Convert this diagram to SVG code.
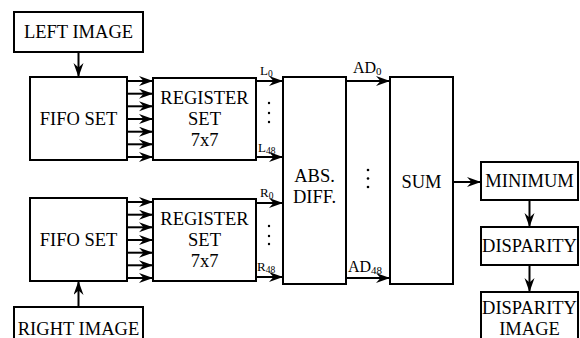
<svg xmlns="http://www.w3.org/2000/svg" width="580" height="338" viewBox="0 0 580 338">
<style>
.box{fill:#fff;stroke:#000;stroke-width:2}
text{font-family:"Liberation Serif","DejaVu Serif",serif;fill:#000}
.t{font-size:18.5px;text-anchor:middle}
.lb{font-size:13px}
.ad{font-size:16px}
.c line{stroke:#000;stroke-width:2;marker-end:url(#ah)}
.dot{fill:#000}
</style>
<defs>
<marker id="ah" markerUnits="userSpaceOnUse" markerWidth="16" markerHeight="12" refX="14" refY="5" orient="auto">
<path d="M0,0 L14,5 L0,10 L4.5,5 z" fill="#000"/>
</marker>
</defs>
<g id="left-image"><rect class="box" x="14" y="12" width="129" height="40"/><text class="t" x="78.5" y="38">LEFT IMAGE</text></g>
<g id="fifo-left"><rect class="box" x="30" y="77" width="97" height="83"/><text class="t" x="78.5" y="125">FIFO SET</text></g>
<g id="reg-left"><rect class="box" x="153" y="78" width="103" height="82"/><text class="t" x="204.5" y="104">REGISTER</text><text class="t" x="204.5" y="125">SET</text><text class="t" x="204.5" y="146">7x7</text></g>
<g id="fifo-right"><rect class="box" x="30" y="198" width="97" height="83"/><text class="t" x="78.5" y="246">FIFO SET</text></g>
<g id="reg-right"><rect class="box" x="153" y="199" width="103" height="82"/><text class="t" x="204.5" y="225">REGISTER</text><text class="t" x="204.5" y="246">SET</text><text class="t" x="204.5" y="267">7x7</text></g>
<g id="right-image"><rect class="box" x="14" y="307" width="129" height="40"/><text class="t" x="78.5" y="335">RIGHT IMAGE</text></g>
<g id="abs-diff"><rect class="box" x="283" y="77" width="63" height="207"/><text class="t" x="314.5" y="182">ABS.</text><text class="t" x="314.5" y="203">DIFF.</text></g>
<g id="sum"><rect class="box" x="390" y="77" width="63" height="207"/><text class="t" x="421.5" y="188">SUM</text></g>
<g id="minimum"><rect class="box" x="481" y="162" width="97" height="38"/><text class="t" x="529.5" y="187">MINIMUM</text></g>
<g id="disparity"><rect class="box" x="481" y="227" width="97" height="38"/><text class="t" x="529.5" y="252">DISPARITY</text></g>
<g id="disparity-image"><rect class="box" x="481" y="292" width="97" height="55"/><text class="t" x="529.5" y="314">DISPARITY</text><text class="t" x="529.5" y="335">IMAGE</text></g>
<g id="connectors" class="c">
<line x1="78.5" y1="52" x2="78.5" y2="77"/>
<line x1="78.5" y1="307" x2="78.5" y2="281"/>
<line x1="127" y1="81" x2="153" y2="81"/>
<line x1="127" y1="93.7" x2="153" y2="93.7"/>
<line x1="127" y1="106.3" x2="153" y2="106.3"/>
<line x1="127" y1="119" x2="153" y2="119"/>
<line x1="127" y1="131.7" x2="153" y2="131.7"/>
<line x1="127" y1="144.3" x2="153" y2="144.3"/>
<line x1="127" y1="157" x2="153" y2="157"/>
<line x1="127" y1="202" x2="153" y2="202"/>
<line x1="127" y1="214.7" x2="153" y2="214.7"/>
<line x1="127" y1="227.3" x2="153" y2="227.3"/>
<line x1="127" y1="240" x2="153" y2="240"/>
<line x1="127" y1="252.7" x2="153" y2="252.7"/>
<line x1="127" y1="265.3" x2="153" y2="265.3"/>
<line x1="127" y1="278" x2="153" y2="278"/>
<line x1="256" y1="81" x2="283" y2="81"/>
<line x1="256" y1="157" x2="283" y2="157"/>
<line x1="256" y1="203" x2="283" y2="203"/>
<line x1="256" y1="277" x2="283" y2="277"/>
<line x1="346" y1="81" x2="390" y2="81"/>
<line x1="346" y1="278" x2="390" y2="278"/>
<line x1="453" y1="182" x2="481" y2="182"/>
<line x1="529.5" y1="200" x2="529.5" y2="227"/>
<line x1="529.5" y1="265" x2="529.5" y2="292"/>
</g>
<g id="labels">
<text class="lb" x="260" y="75">L<tspan font-size="9.5" dy="2">0</tspan></text>
<text class="lb" x="258" y="152">L<tspan font-size="9.5" dy="2">48</tspan></text>
<text class="lb" x="260" y="197">R<tspan font-size="9.5" dy="2">0</tspan></text>
<text class="lb" x="257" y="271">R<tspan font-size="9.5" dy="2">48</tspan></text>
<text class="ad" x="353" y="73">AD<tspan font-size="11" dy="2">0</tspan></text>
<text class="ad" x="348" y="272">AD<tspan font-size="11" dy="2">48</tspan></text>
<circle class="dot" cx="269" cy="103" r="1.2"/><circle class="dot" cx="269" cy="113" r="1.2"/><circle class="dot" cx="269" cy="122" r="1.2"/>
<circle class="dot" cx="269" cy="226" r="1.2"/><circle class="dot" cx="269" cy="236" r="1.2"/><circle class="dot" cx="269" cy="244" r="1.2"/>
<circle class="dot" cx="368" cy="170" r="1.3"/><circle class="dot" cx="368" cy="178.5" r="1.3"/><circle class="dot" cx="368" cy="187" r="1.3"/>
</g>
</svg>
